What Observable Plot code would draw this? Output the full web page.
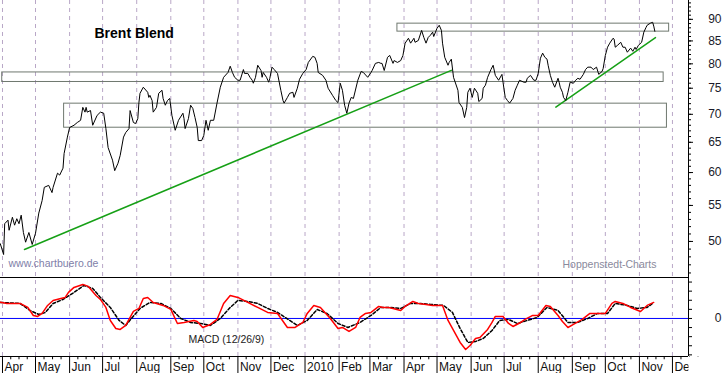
<!DOCTYPE html>
<html><head><meta charset="utf-8">
<script src="https://cdn.jsdelivr.net/npm/d3@7"></script>
<script src="https://cdn.jsdelivr.net/npm/@observablehq/plot@0.6"></script>
<style>
body{margin:0;background:#fff;}
#chart svg{display:block;}
</style></head><body><div id="chart"></div>
<script>
// Brent Blend daily close (USD)
const price = [
["2009-03-30",49.7],["2009-04-02",48.3],["2009-04-03",52.4],["2009-04-06",52.9],["2009-04-07",51.5],["2009-04-10",53.3],["2009-04-12",52.2],["2009-04-14",53.1],["2009-04-16",52.4],["2009-04-18",53.6],["2009-04-20",51.2],["2009-04-22",49.9],["2009-04-25",51.2],["2009-04-28",49.6],["2009-05-01",51.1],["2009-05-04",53.9],["2009-05-07",55.7],["2009-05-09",57.7],["2009-05-13",58.0],["2009-05-16",56.9],["2009-05-17",57.7],["2009-05-21",59.9],["2009-05-23",59.6],["2009-05-26",60.7],["2009-05-27",63.1],["2009-05-30",65.9],["2009-06-01",67.6],["2009-06-05",68.0],["2009-06-08",68.5],["2009-06-11",68.9],["2009-06-13",71.3],["2009-06-15",70.4],["2009-06-16",71.3],["2009-06-17",70.4],["2009-06-20",70.7],["2009-06-22",68.0],["2009-06-26",69.8],["2009-06-29",70.4],["2009-07-02",70.2],["2009-07-04",67.4],["2009-07-06",64.1],["2009-07-10",62.0],["2009-07-12",60.3],["2009-07-15",61.5],["2009-07-17",62.8],["2009-07-20",65.9],["2009-07-22",66.7],["2009-07-25",67.4],["2009-07-26",70.7],["2009-07-29",68.5],["2009-07-31",68.3],["2009-08-02",69.2],["2009-08-03",72.2],["2009-08-04",74.0],["2009-08-07",75.2],["2009-08-11",74.2],["2009-08-12",73.2],["2009-08-13",73.6],["2009-08-15",72.6],["2009-08-16",70.4],["2009-08-19",71.3],["2009-08-21",74.0],["2009-08-24",74.6],["2009-08-25",73.0],["2009-08-27",71.7],["2009-08-29",72.6],["2009-08-31",73.0],["2009-09-02",69.8],["2009-09-05",67.1],["2009-09-08",68.9],["2009-09-12",70.2],["2009-09-13",69.2],["2009-09-14",67.4],["2009-09-17",69.2],["2009-09-19",71.7],["2009-09-21",71.1],["2009-09-23",69.4],["2009-09-25",67.6],["2009-09-26",65.3],["2009-09-29",65.3],["2009-10-01",66.2],["2009-10-03",68.9],["2009-10-05",67.1],["2009-10-07",68.9],["2009-10-10",68.9],["2009-10-13",72.1],["2009-10-16",75.2],["2009-10-19",77.2],["2009-10-23",78.2],["2009-10-25",79.5],["2009-10-27",78.2],["2009-10-29",77.2],["2009-11-01",76.6],["2009-11-03",76.6],["2009-11-06",78.8],["2009-11-07",78.0],["2009-11-10",78.0],["2009-11-12",77.2],["2009-11-14",76.6],["2009-11-15",76.0],["2009-11-17",77.2],["2009-11-19",79.7],["2009-11-22",78.6],["2009-11-23",77.2],["2009-11-24",78.2],["2009-11-27",77.2],["2009-11-29",76.2],["2009-11-30",77.0],["2009-12-02",79.3],["2009-12-04",78.8],["2009-12-07",78.0],["2009-12-10",74.6],["2009-12-12",72.6],["2009-12-13",72.1],["2009-12-16",73.2],["2009-12-18",74.0],["2009-12-21",74.2],["2009-12-22",73.2],["2009-12-25",75.0],["2009-12-27",76.8],["2009-12-30",78.0],["2010-01-02",78.8],["2010-01-04",80.3],["2010-01-08",81.6],["2010-01-10",81.4],["2010-01-12",80.1],["2010-01-13",78.2],["2010-01-17",77.6],["2010-01-20",76.6],["2010-01-22",75.0],["2010-01-26",73.6],["2010-01-29",72.6],["2010-01-31",72.2],["2010-02-02",76.0],["2010-02-04",74.6],["2010-02-06",71.7],["2010-02-08",70.2],["2010-02-10",72.1],["2010-02-12",73.2],["2010-02-14",73.0],["2010-02-18",76.6],["2010-02-21",78.4],["2010-02-23",78.2],["2010-02-27",77.2],["2010-03-02",78.2],["2010-03-03",78.6],["2010-03-06",80.1],["2010-03-09",80.3],["2010-03-11",80.1],["2010-03-12",80.1],["2010-03-14",78.6],["2010-03-17",81.4],["2010-03-19",81.8],["2010-03-22",80.1],["2010-03-23",80.7],["2010-03-26",80.3],["2010-03-29",80.7],["2010-03-31",81.8],["2010-04-02",84.5],["2010-04-05",85.6],["2010-04-07",84.5],["2010-04-10",85.6],["2010-04-11",84.7],["2010-04-14",85.1],["2010-04-17",87.4],["2010-04-19",85.8],["2010-04-21",84.5],["2010-04-23",85.8],["2010-04-25",86.3],["2010-04-27",87.0],["2010-04-28",86.0],["2010-05-01",87.9],["2010-05-03",88.6],["2010-05-05",87.4],["2010-05-06",84.5],["2010-05-08",81.4],["2010-05-11",79.7],["2010-05-12",80.3],["2010-05-14",81.0],["2010-05-16",77.2],["2010-05-20",74.6],["2010-05-21",72.2],["2010-05-24",71.3],["2010-05-26",69.4],["2010-05-28",71.3],["2010-05-29",74.2],["2010-05-31",75.0],["2010-06-02",73.2],["2010-06-04",75.0],["2010-06-07",74.0],["2010-06-08",72.4],["2010-06-11",73.0],["2010-06-12",75.0],["2010-06-14",75.6],["2010-06-16",77.2],["2010-06-19",78.8],["2010-06-21",79.7],["2010-06-23",77.6],["2010-06-26",76.6],["2010-06-29",77.8],["2010-06-30",76.2],["2010-07-02",73.2],["2010-07-04",72.6],["2010-07-06",72.1],["2010-07-09",73.0],["2010-07-11",74.6],["2010-07-13",75.6],["2010-07-15",76.6],["2010-07-19",76.2],["2010-07-21",76.2],["2010-07-22",77.0],["2010-07-25",77.6],["2010-07-28",76.6],["2010-07-30",76.6],["2010-08-01",78.0],["2010-08-03",81.2],["2010-08-05",82.3],["2010-08-07",81.4],["2010-08-09",81.0],["2010-08-10",79.7],["2010-08-12",77.6],["2010-08-14",76.2],["2010-08-16",75.2],["2010-08-19",77.0],["2010-08-20",76.2],["2010-08-21",75.2],["2010-08-23",74.2],["2010-08-24",73.2],["2010-08-26",72.6],["2010-08-28",74.2],["2010-08-30",76.2],["2010-09-02",76.0],["2010-09-04",76.6],["2010-09-06",77.0],["2010-09-08",76.8],["2010-09-11",77.8],["2010-09-13",78.8],["2010-09-15",79.3],["2010-09-18",79.3],["2010-09-20",78.8],["2010-09-23",79.3],["2010-09-25",77.8],["2010-09-28",78.4],["2010-09-29",79.0],["2010-10-01",81.8],["2010-10-03",83.6],["2010-10-05",84.5],["2010-10-08",85.6],["2010-10-09",85.4],["2010-10-10",83.6],["2010-10-12",84.0],["2010-10-15",84.7],["2010-10-17",83.6],["2010-10-19",83.6],["2010-10-21",82.5],["2010-10-24",83.4],["2010-10-26",82.7],["2010-10-28",83.6],["2010-10-29",83.1],["2010-10-31",84.0],["2010-11-03",84.7],["2010-11-05",87.0],["2010-11-07",88.1],["2010-11-08",88.6],["2010-11-11",89.1],["2010-11-13",89.3],["2010-11-14",88.4],["2010-11-15",87.2]
];
// MACD (12/26/9) line
const macd = [
["2009-03-30",1.79],["2009-04-05",1.65],["2009-04-17",1.65],["2009-04-24",1.21],["2009-04-29",0.33],["2009-05-03",0.22],["2009-05-07",0.55],["2009-05-12",1.43],["2009-05-17",1.98],["2009-05-24",2.20],["2009-05-28",2.31],["2009-05-31",2.86],["2009-06-05",3.41],["2009-06-13",3.74],["2009-06-18",3.52],["2009-06-25",2.53],["2009-06-29",2.09],["2009-07-04",1.21],["2009-07-08",-0.22],["2009-07-13",-1.10],["2009-07-17",-1.21],["2009-07-22",-0.77],["2009-07-26",0.11],["2009-07-29",0.77],["2009-08-03",1.10],["2009-08-07",2.20],["2009-08-11",2.31],["2009-08-16",1.76],["2009-08-25",1.43],["2009-09-01",1.00],["2009-09-07",-0.55],["2009-09-13",-0.44],["2009-09-22",-0.22],["2009-09-25",-0.33],["2009-09-30",-0.99],["2009-10-07",-0.66],["2009-10-13",-0.11],["2009-10-19",1.65],["2009-10-25",2.53],["2009-11-01",2.31],["2009-11-10",1.76],["2009-11-19",1.21],["2009-11-28",0.66],["2009-12-07",0.55],["2009-12-16",-0.99],["2009-12-23",-0.99],["2009-12-30",-0.44],["2010-01-03",0.55],["2010-01-09",1.43],["2010-01-15",1.21],["2010-01-24",0],["2010-01-31",-1.10],["2010-02-04",-0.99],["2010-02-10",-1.43],["2010-02-16",-0.99],["2010-02-20",0.11],["2010-02-25",0.55],["2010-03-02",0.66],["2010-03-09",1.32],["2010-03-13",1.21],["2010-03-18",1.21],["2010-03-22",1.10],["2010-03-29",0.88],["2010-04-02",1.32],["2010-04-09",1.87],["2010-04-14",1.65],["2010-04-21",1.54],["2010-04-27",1.43],["2010-05-06",1.43],["2010-05-11",-0.22],["2010-05-16",-1.32],["2010-05-22",-2.64],["2010-05-27",-3.41],["2010-05-31",-2.97],["2010-06-05",-2.20],["2010-06-09",-2.09],["2010-06-16",-1.21],["2010-06-20",-0.44],["2010-06-23",0.22],["2010-06-30",0.22],["2010-07-05",-0.55],["2010-07-09",-0.88],["2010-07-16",-0.44],["2010-07-20",-0.11],["2010-07-27",0.33],["2010-08-01",0.33],["2010-08-08",1.43],["2010-08-12",1.32],["2010-08-19",0.33],["2010-08-23",-0.33],["2010-08-28",-0.99],["2010-09-02",-0.66],["2010-09-10",-0.11],["2010-09-17",0.55],["2010-09-24",0.55],["2010-10-01",0.55],["2010-10-07",1.65],["2010-10-10",1.87],["2010-10-17",1.65],["2010-10-24",1.21],["2010-11-02",0.77],["2010-11-08",1.43],["2010-11-14",1.76]
];
// Signal line
const signal = [
["2009-03-30",1.76],["2009-04-17",1.65],["2009-04-26",0.88],["2009-05-04",0.44],["2009-05-10",0.66],["2009-05-17",1.65],["2009-05-26",2.09],["2009-06-05",2.86],["2009-06-14",3.63],["2009-06-22",3.30],["2009-06-29",2.31],["2009-07-08",1.21],["2009-07-16",-0.22],["2009-07-22",-0.77],["2009-07-28",0.11],["2009-08-04",1.10],["2009-08-13",1.76],["2009-08-23",1.65],["2009-09-01",1.10],["2009-09-10",0],["2009-09-19",-0.44],["2009-09-28",-0.55],["2009-10-07",-0.77],["2009-10-16",0],["2009-10-25",1.21],["2009-11-01",1.98],["2009-11-10",1.87],["2009-11-19",1.65],["2009-11-28",1.10],["2009-12-07",0.66],["2009-12-14",0.11],["2009-12-25",-0.77],["2010-01-03",-0.22],["2010-01-12",0.99],["2010-01-21",0.55],["2010-01-31",-0.55],["2010-02-09",-0.99],["2010-02-20",-0.44],["2010-03-02",0.33],["2010-03-11",1.21],["2010-03-20",1.21],["2010-03-29",1.10],["2010-04-07",1.65],["2010-04-16",1.65],["2010-04-25",1.54],["2010-05-07",1.43],["2010-05-15",0.66],["2010-05-22",-1.10],["2010-05-29",-2.64],["2010-06-05",-2.53],["2010-06-12",-2.20],["2010-06-20",-1.32],["2010-06-27",-0.22],["2010-07-05",-0.11],["2010-07-13",-0.55],["2010-07-22",-0.22],["2010-07-31",0.11],["2010-08-09",1.21],["2010-08-19",0.88],["2010-08-28",-0.44],["2010-09-06",-0.44],["2010-09-15",0],["2010-09-24",0.55],["2010-10-03",0.55],["2010-10-10",1.65],["2010-10-21",1.43],["2010-10-30",1.10],["2010-11-08",1.21],["2010-11-13",1.65]
];
// Drawn-in support/resistance boxes and trendlines
const boxes = [
  {from:"2010-03-26", to:"2010-11-28", low:87.12, high:88.98},
  {from:"2009-03-31T18:00Z", to:"2010-11-23", low:76.25, high:78.2},
  {from:"2009-05-27", to:"2010-11-26", low:67.56, high:72.0}
];
const trendLong = [["2009-04-21",48.95],["2010-05-14",78.63]];
const trendShort = [["2010-08-17",71.35],["2010-11-15T14:00Z",85.74]];
const priceTicks = [50,55,60,65,70,75,80,85,90];
const priceMinor = d3.range(46,95);
const macdTicks = d3.range(-4,5);
const monthLabels = ["Apr","May","Jun","Jul","Aug","Sep","Oct","Nov","Dec","2010","Feb","Mar","Apr","May","Jun","Jul","Aug","Sep","Oct","Nov","Dec"];

const FONT = "Arial, 'Liberation Sans', sans-serif";
const xDomain = [new Date("2009-03-30T04:24Z"), new Date("2010-12-15T14:24Z")];
const PX = (xDomain[1] - xDomain[0]) / 688;
const after = px => new Date(+xDomain[1] + px * PX);
const months = d3.utcMonth.range(new Date("2009-04-01"), new Date("2010-12-02"));
const quarters = [];
months.forEach(m => {
  const n = d3.utcMonth.offset(m, 1);
  [0.25, 0.5, 0.75].forEach(f => quarters.push(new Date(+m + f * (n - m))));
});
const gridStroke = "#b9a7c7";
const toDate = d => new Date(d[0]);

const main = Plot.plot({
  width: 723, height: 277,
  marginLeft: 0, marginRight: 35, marginTop: 0, marginBottom: 0,
  style: {fontFamily: FONT, background: "white"},
  x: {type: "utc", domain: xDomain, axis: null},
  y: {type: "log", domain: [45.45, 94.6], axis: null},
  marks: [
    Plot.ruleX(months, {x: d => d, stroke: gridStroke, strokeDasharray: "4,4"}),
    Plot.rect(boxes, {x1: d => new Date(d.from), x2: d => new Date(d.to), y1: "low", y2: "high", fill: "none", stroke: "#6f786f"}),
    Plot.line(trendLong, {x: toDate, y: d => d[1], stroke: "#16a016"}),
    Plot.line(trendShort, {x: toDate, y: d => d[1], stroke: "#16a016"}),
    Plot.line(price, {x: toDate, y: d => d[1], stroke: "#000", strokeWidth: 1}),
    Plot.ruleX([0], {x: () => xDomain[1], stroke: "#000"}),
    Plot.ruleY(priceMinor, {y: d => d, x1: () => xDomain[1], x2: () => after(3), stroke: "#000"}),
    Plot.ruleY(priceTicks, {y: d => d, x1: () => xDomain[1], x2: () => after(5), stroke: "#000"}),
    Plot.text(priceTicks, {x: () => xDomain[1], y: d => d, text: d => String(d), dx: 33, textAnchor: "end", fontSize: 12, fill: "#1a1a2a"}),
    Plot.text(["Brent Blend"], {text: d => d, frameAnchor: "top-left", dx: 94, dy: 37, lineAnchor: "bottom", textAnchor: "start", fontSize: 14, fontWeight: "bold", fill: "#000"}),
    Plot.text(["www.chartbuero.de"], {text: d => d, frameAnchor: "top-left", dx: 8, dy: 266, lineAnchor: "bottom", textAnchor: "start", fontSize: 10.5, fill: "#8080a8"}),
    Plot.text(["Hoppenstedt-Charts"], {text: d => d, frameAnchor: "top-left", dx: 562, dy: 267, lineAnchor: "bottom", textAnchor: "start", fontSize: 10.5, fill: "#8a8a9c"})
  ]
});

const yTop = 4.5, yBot = -4.18;
const lower = Plot.plot({
  width: 723, height: 96,
  marginLeft: 0, marginRight: 35, marginTop: 0, marginBottom: 17,
  style: {fontFamily: FONT, background: "white"},
  x: {type: "utc", domain: xDomain, axis: null},
  y: {domain: [yBot, yTop], axis: null},
  marks: [
    Plot.ruleX(months, {x: d => d, y1: yBot, y2: yTop, stroke: gridStroke, strokeDasharray: "4,4"}),
    Plot.ruleY([0], {stroke: "#0000ff"}),
    Plot.line(signal, {x: toDate, y: d => d[1], stroke: "#000", strokeDasharray: "3,2"}),
    Plot.line(macd, {x: toDate, y: d => d[1], stroke: "#ff0000"}),
    Plot.ruleY([yBot], {stroke: "#000"}),
    Plot.ruleX(months, {x: d => d, y1: yBot, y2: yBot - 2.0, stroke: "#000"}),
    Plot.ruleX(quarters, {x: d => d, y1: yBot, y2: yBot - 0.36, stroke: "#000"}),
    Plot.text(months, {x: d => d, y: () => yBot - 1.54, text: (d, i) => monthLabels[i], dx: 2, textAnchor: "start", lineAnchor: "bottom", fontSize: 12, fill: "#111"}),
    Plot.rect([0], {x1: () => after(0.5), x2: () => after(40), y1: () => yBot - 0.05, y2: () => yBot - 2.5, fill: "white"}),
    Plot.ruleX([0], {x: () => xDomain[1], y1: yBot, y2: yTop, stroke: "#000"}),
    Plot.ruleY(macdTicks, {y: d => d, x1: () => xDomain[1], x2: () => after(4), stroke: "#000"}),
    Plot.text([0], {x: () => xDomain[1], y: d => d, text: () => "0", dx: 33, textAnchor: "end", fontSize: 12, fill: "#1a1a2a"}),
    Plot.ruleY([yTop], {stroke: "#000"}),
    Plot.text(["MACD (12/26/9)"], {text: d => d, frameAnchor: "top-left", dx: 188, dy: 65, lineAnchor: "bottom", textAnchor: "start", fontSize: 10.5, fill: "#222"})
  ]
});

document.getElementById("chart").append(main, lower);
</script></body></html>
